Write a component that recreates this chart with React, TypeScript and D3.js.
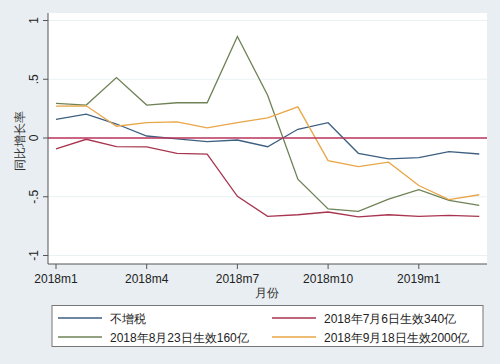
import React from 'react';
import * as d3 from 'd3';

// months from 2018m1 to 2019m3 (index 0..14)
const months = d3.range(15);
const xTicks = [0, 3, 6, 9, 12];
const xTickLabels = ['2018m1', '2018m4', '2018m7', '2018m10', '2019m1'];
const yTicks = [1, 0.5, 0, -0.5, -1];
const yTickLabels = ['1', '.5', '0', '-.5', '-1'];

const noTax = [0.158, 0.203, 0.119, 0.017, -0.008, -0.03, -0.017, -0.074, 0.074, 0.13, -0.13, -0.178, -0.167, -0.116, -0.136];
const tariff340 = [-0.093, -0.011, -0.074, -0.076, -0.13, -0.138, -0.497, -0.667, -0.653, -0.63, -0.672, -0.653, -0.667, -0.658, -0.667];
const tariff160 = [0.294, 0.28, 0.514, 0.28, 0.3, 0.3, 0.864, 0.364, -0.35, -0.604, -0.624, -0.52, -0.44, -0.53, -0.574];
const tariff2000 = [0.271, 0.274, 0.1, 0.13, 0.138, 0.087, 0.13, 0.172, 0.265, -0.192, -0.243, -0.206, -0.404, -0.525, -0.483];

const seriesNames = ['不增税', '2018年7月6日生效340亿', '2018年8月23日生效160亿', '2018年9月18日生效2000亿'];
const seriesValues = [noTax, tariff340, tariff160, tariff2000];
const colors = ['#3d5f80', '#a8354f', '#6e8256', '#e8a646'];

const W = 500;
const H = 364;
const font = '"Liberation Sans", Arial, sans-serif';

export default function App() {
  const plot = { left: 48, right: 487, top: 13, bottom: 264 };
  const x = d3.scaleLinear().domain([0, 3]).range([56, 146.7]);
  const y = d3.scaleLinear().domain([0, 1]).range([138, 20.5]);
  const line = d3.line<number>().x((_, i) => x(months[i])).y(d => y(d));

  return (
    <svg width={W} height={H} style={{ position: 'absolute', left: 0, top: 0 }}>
      <rect width={W} height={H} fill="#e8eef1" />
      <rect x={plot.left} y={plot.top} width={plot.right - plot.left} height={plot.bottom - plot.top} fill="#ffffff" />
      {/* grid */}
      {yTicks.filter(t => t !== 0).map(t => (
        <line key={t} x1={plot.left} x2={plot.right} y1={y(t)} y2={y(t)} stroke="#eaf1f3" strokeWidth={1} />
      ))}
      {/* series */}
      {seriesValues.map((vals, i) => (
        <path key={i} d={line(vals) || ''} fill="none" stroke={colors[i]} strokeWidth={1.3} />
      ))}
      {/* zero line */}
      <line x1={plot.left} x2={plot.right} y1={y(0)} y2={y(0)} stroke="#b8335a" strokeWidth={1.3} />
      {/* axes */}
      <line x1={plot.left} x2={plot.left} y1={plot.top} y2={plot.bottom} stroke="#555" strokeWidth={1} />
      <line x1={plot.left} x2={plot.right} y1={plot.bottom} y2={plot.bottom} stroke="#555" strokeWidth={1} />
      {yTicks.map((t, i) => (
        <g key={t}>
          <line x1={plot.left - 5} x2={plot.left} y1={y(t)} y2={y(t)} stroke="#555" />
          <text
            transform={`translate(${plot.left - 10},${y(t)}) rotate(-90)`}
            textAnchor="middle"
            fontFamily={font}
            fontSize={12}
            fill="#222"
          >
            {yTickLabels[i]}
          </text>
        </g>
      ))}
      {xTicks.map((t, i) => (
        <g key={t}>
          <line x1={x(t)} x2={x(t)} y1={plot.bottom} y2={plot.bottom + 5} stroke="#555" />
          <text x={x(t)} y={plot.bottom + 19} textAnchor="middle" fontFamily={font} fontSize={12} fill="#222">
            {xTickLabels[i]}
          </text>
        </g>
      ))}
      <text x={267} y={297} textAnchor="middle" fontFamily={font} fontSize={12} fill="#333">月份</text>
      <text transform="translate(24,141) rotate(-90)" textAnchor="middle" fontFamily={font} fontSize={12} fill="#333">
        同比增长率
      </text>
      {/* legend */}
      <rect x={52} y={305.5} width={431} height={41} fill="#ffffff" stroke="#777" strokeWidth={1} />
      {seriesNames.map((name, i) => {
        const col = i % 2;
        const row = Math.floor(i / 2);
        const lx = col === 0 ? 58 : 272;
        const ly = row === 0 ? 318 : 337;
        return (
          <g key={name}>
            <line x1={lx} x2={lx + 44} y1={ly} y2={ly} stroke={colors[i]} strokeWidth={1.3} />
            <text x={lx + 52} y={ly + 4.5} fontFamily={font} fontSize={12} fill="#222">{name}</text>
          </g>
        );
      })}
    </svg>
  );
}
